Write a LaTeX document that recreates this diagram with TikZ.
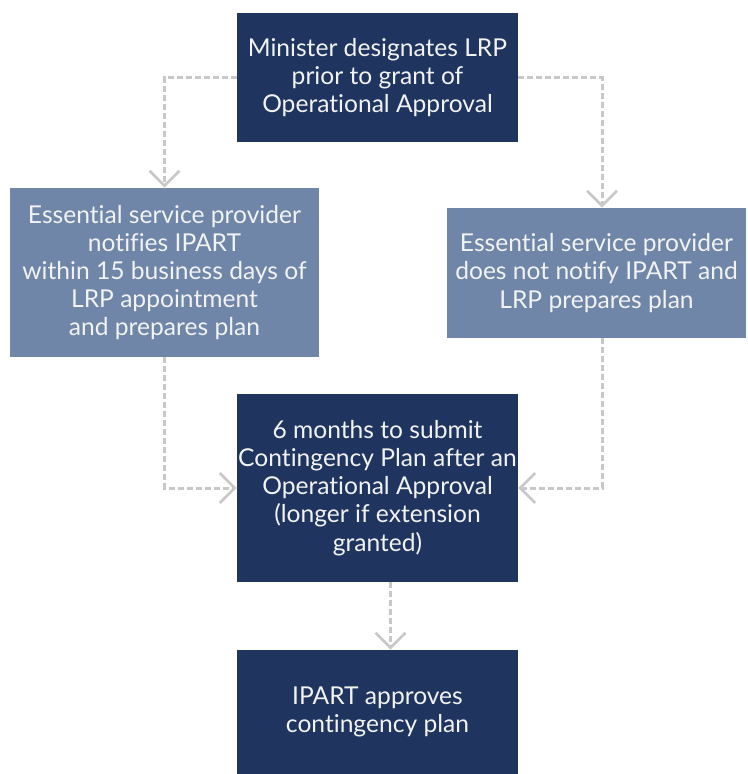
\documentclass[tikz,border=0pt]{standalone}
\usepackage{fontspec}
\setmainfont{Lato}[Ligatures=NoCommon]
\usetikzlibrary{arrows.meta}
\definecolor{navy}{RGB}{31,53,95}
\definecolor{slate}{RGB}{111,134,168}
\definecolor{linkgray}{RGB}{200,200,200}
\begin{document}
\begin{tikzpicture}[x=0.02cm, y=-0.02cm,
    every node/.style={align=center, text=white!95!black, inner sep=0pt, font=\fontsize{14}{16}\selectfont},
    dark/.style={fill=navy, minimum width=5.62cm},
    light/.style={fill=slate},
    link/.style={draw=linkgray, line width=1.7pt, dash pattern=on 0.12cm off 0.06cm,
        -{Straight Barb[length=0.3cm, width=0.6cm, line width=1.5pt]}}
]
\useasboundingbox (0,0) rectangle (747,774);

% ----- top -----
\node[dark, minimum height=2.58cm] (designate) at (377.5,77.5)
    {Minister designates LRP\\prior to grant of\\Operational Approval};

% ----- two cases -----
\node[light, minimum width=6.18cm, minimum height=3.38cm] (notify) at (164.5,272.5)
    {Essential service provider\\notifies IPART\\within 15 business days of\\LRP appointment\\and prepares plan};
\node[light, minimum width=5.98cm, minimum height=2.6cm] (nonotify) at (596.5,273)
    {Essential service provider\\does not notify IPART and\\LRP prepares plan};

% ----- submit -----
\node[dark, minimum height=3.76cm] (submit) at (377.5,488)
    {6 months to submit\\Contingency Plan after an\\Operational Approval\\(longer if extension\\granted)};

% ----- approve -----
\node[dark, minimum height=2.48cm] (approve) at (377.5,712)
    {IPART approves\\contingency plan};

% ----- links -----
\draw[link] (designate.west) -| (notify.north);
\draw[link] (designate.east) -| ([xshift=0.11cm]nonotify.north);
\draw[link] (notify.south) |- (submit.west);
\draw[link] ([xshift=0.11cm]nonotify.south) |- (submit.east);
\draw[link] ([xshift=0.26cm]submit.south) -- ([xshift=0.26cm]approve.north);

\end{tikzpicture}
\end{document}
